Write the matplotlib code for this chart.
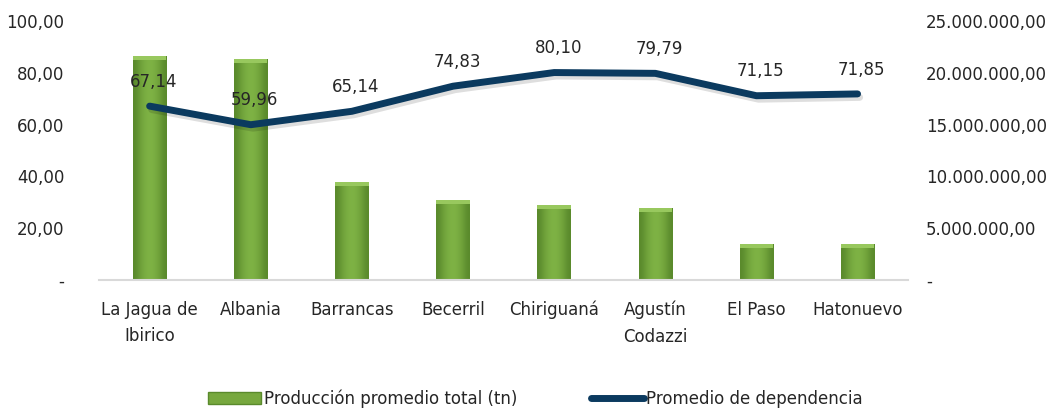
import matplotlib
matplotlib.use("Agg")
import matplotlib.pyplot as plt
import matplotlib.patheffects as pe
import numpy as np
from matplotlib.lines import Line2D
from matplotlib.patches import Patch
from matplotlib.colors import LinearSegmentedColormap

plt.rcParams['font.family'] = ['DejaVu Sans']

categories = ["La Jagua de\nIbirico", "Albania", "Barrancas", "Becerril", "Chiriguaná",
              "Agustín\nCodazzi", "El Paso", "Hatonuevo"]
produccion = [21600000, 21300000, 9460000, 7720000, 7240000, 6950000, 3470000, 3470000]
dependencia = [67.14, 59.96, 65.14, 74.83, 80.10, 79.79, 71.15, 71.85]
dep_labels = ["67,14", "59,96", "65,14", "74,83", "80,10", "79,79", "71,15", "71,85"]
left_ticks = [0, 20, 40, 60, 80, 100]
left_labels = ["-", "20,00", "40,00", "60,00", "80,00", "100,00"]
right_ticks = [0, 5e6, 10e6, 15e6, 20e6, 25e6]
right_labels = ["-", "5.000.000,00", "10.000.000,00", "15.000.000,00", "20.000.000,00", "25.000.000,00"]

txt = "#262626"
fs = 12
fig = plt.figure(figsize=(10.46, 4.11), dpi=100)
ax = fig.add_axes([0.0947, 0.3187, 0.7735, 0.6302])
ax2 = ax.twinx()

x = np.arange(len(categories))
ax.set_xlim(-0.5, len(categories) - 0.5)
ax.set_ylim(0, 100)
ax2.set_ylim(0, 25e6)

# bars on secondary axis
bars = ax2.bar(x, produccion, width=0.33, color="#77a83e", zorder=1)
grad = np.array([[0.0, 0.35, 0.7, 0.9, 1.0, 0.9, 0.7, 0.35, 0.0]])
cmap = LinearSegmentedColormap.from_list("g", ["#5a8a2c", "#7fb345"])
for b in bars:
    x0, w, h = b.get_x(), b.get_width(), b.get_height()
    im = ax2.imshow(grad, cmap=cmap, aspect="auto", extent=(x0, x0 + w, 0, h),
                    interpolation="bicubic", zorder=1)
    im.set_clip_path(b)
    cap = 0.4e6
    ax2.bar(b.get_x() + w / 2, cap, width=w, bottom=h - cap, color="#98c85e", zorder=1.5)

ax2.set_xlim(-0.5, len(categories) - 0.5)

# line on primary axis, drawn above bars
ax.set_zorder(ax2.get_zorder() + 1)
ax.patch.set_visible(False)
ax.plot(x, dependencia, color="#0b3a5f", lw=5, solid_capstyle="round", solid_joinstyle="round",
        path_effects=[pe.SimpleLineShadow(offset=(1.5, -2.5), alpha=0.13, shadow_color="k"), pe.Normal()],
        zorder=3)
for xi, yi, lab in zip(x, dependencia, dep_labels):
    ax.annotate(lab, (xi, yi), xytext=(3, 11), textcoords="offset points", ha="center",
                va="bottom", fontsize=fs, color=txt)

ax.set_yticks(left_ticks)
ax.set_yticklabels(left_labels, fontsize=fs, color=txt)
ax2.set_yticks(right_ticks)
ax2.set_yticklabels(right_labels, fontsize=fs, color=txt)
ax.set_xticks(x)
ax.set_xticklabels(categories, fontsize=fs, color=txt, linespacing=1.6, va="top")
for a in (ax, ax2):
    a.tick_params(length=0)
    for s in a.spines.values():
        s.set_visible(False)
ax.tick_params(axis="y", pad=25)
ax.tick_params(axis="x", pad=15)
ax2.tick_params(axis="y", pad=13)
ax.spines["bottom"].set_visible(True)
ax.spines["bottom"].set_color("#d9d9d9")
ax.spines["bottom"].set_linewidth(1.5)

handles = [Patch(facecolor="#77a83e", edgecolor="#5a8a2c"),
           Line2D([0], [0], color="#0b3a5f", lw=5, solid_capstyle="round")]
fig.legend(handles, ["Producción promedio total (tn)", "Promedio de dependencia"],
           loc="center", bbox_to_anchor=(0.512, 0.03), ncol=2, frameon=False,
           fontsize=fs, handlelength=3.2, handletextpad=0.15, columnspacing=4.4,
           labelcolor=txt)

fig.savefig("out.png", dpi=100)
